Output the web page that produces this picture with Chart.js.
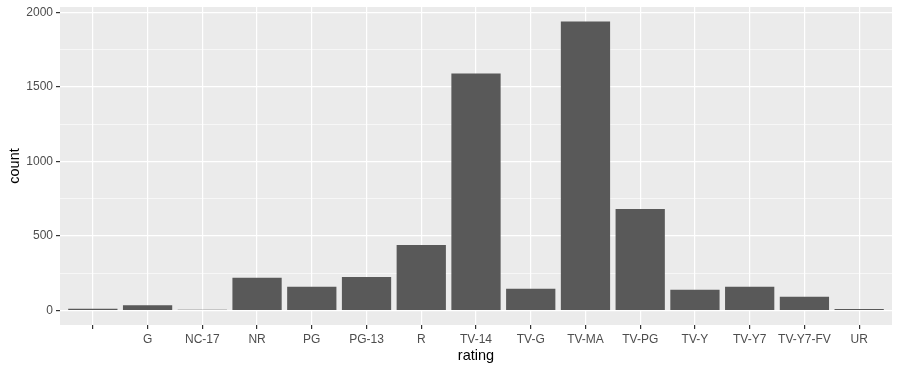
<!DOCTYPE html>
<html>
<head>
<meta charset="utf-8">
<script src="https://cdn.jsdelivr.net/npm/chart.js@4/dist/chart.umd.min.js"></script>
<style>
  html, body { margin: 0; padding: 0; background: #fff; }
  #wrap { width: 900px; height: 370px; }
</style>
</head>
<body>
<div id="wrap"><canvas id="chart"></canvas></div>
<script>
const ratings = ['', 'G', 'NC-17', 'NR', 'PG', 'PG-13', 'R', 'TV-14', 'TV-G', 'TV-MA', 'TV-PG', 'TV-Y', 'TV-Y7', 'TV-Y7-FV', 'UR'];
const counts = [12, 35, 6, 220, 160, 225, 440, 1590, 147, 1940, 682, 140, 160, 93, 10];
const yTicks = [0, 250, 500, 750, 1000, 1250, 1500, 1750, 2000];

const maxCount = Math.max(...counts);
const isMajor = v => v % 500 === 0;

// grey panel behind the plot area
const panelBg = {
  id: 'panelBg',
  beforeDraw(chart) {
    const {ctx, chartArea: a} = chart;
    ctx.save();
    ctx.fillStyle = '#EBEBEB';
    ctx.fillRect(a.left, a.top, a.right - a.left, a.bottom - a.top);
    ctx.restore();
  }
};

const ctx = document.getElementById('chart');
new Chart(ctx, {
  type: 'bar',
  data: {
    datasets: [{
      data: counts.map((c, i) => ({x: i, y: c})),
      backgroundColor: '#595959',
      borderWidth: 0,
      categoryPercentage: 0.9,
      barPercentage: 1.0
    }]
  },
  options: {
    responsive: true,
    maintainAspectRatio: false,
    animation: false,
    layout: { padding: {top: 7, right: 8, left: 0, bottom: 0} },
    plugins: {
      legend: { display: false },
      tooltip: { enabled: false }
    },
    scales: {
      x: {
        type: 'linear',
        offset: false,
        min: -0.6,
        max: ratings.length - 1 + 0.6,
        afterBuildTicks: s => { s.ticks = ratings.map((r, i) => ({value: i})); },
        afterFit: s => { s.height = 45; s.paddingLeft = 0; s.paddingRight = 0; },
        border: { display: false },
        grid: { offset: false, color: '#FFFFFF', lineWidth: 1.2, tickColor: '#333333', tickLength: 4 },
        ticks: {
          autoSkip: false, maxRotation: 0, padding: 3,
          color: '#4D4D4D',
          font: { family: 'Liberation Sans', size: 12 },
          callback: v => ratings[v]
        },
        title: {
          display: true, text: 'rating', color: '#000000',
          font: { family: 'Liberation Sans', size: 14.5 },
          padding: {top: 0, bottom: 5}
        }
      },
      y: {
        min: -0.05 * maxCount,
        max: 1.05 * maxCount,
        afterBuildTicks: s => { s.ticks = yTicks.map(v => ({value: v})); },
        afterFit: s => { s.width = 60; s.paddingTop = 0; s.paddingBottom = 0; },
        border: { display: false },
        grid: {
          color: '#FFFFFF',
          lineWidth: c => isMajor(c.tick.value) ? 1.2 : 0.6,
          tickColor: c => isMajor(c.tick.value) ? '#333333' : 'rgba(0,0,0,0)',
          tickLength: 4
        },
        ticks: {
          padding: 3,
          color: '#4D4D4D',
          font: { family: 'Liberation Sans', size: 12 },
          callback: v => isMajor(v) ? String(v) : ''
        },
        title: {
          display: true, text: 'count', color: '#000000',
          font: { family: 'Liberation Sans', size: 14.5 },
          padding: {top: 6, bottom: 0}
        }
      }
    }
  },
  plugins: [panelBg]
});
</script>
</body>
</html>
